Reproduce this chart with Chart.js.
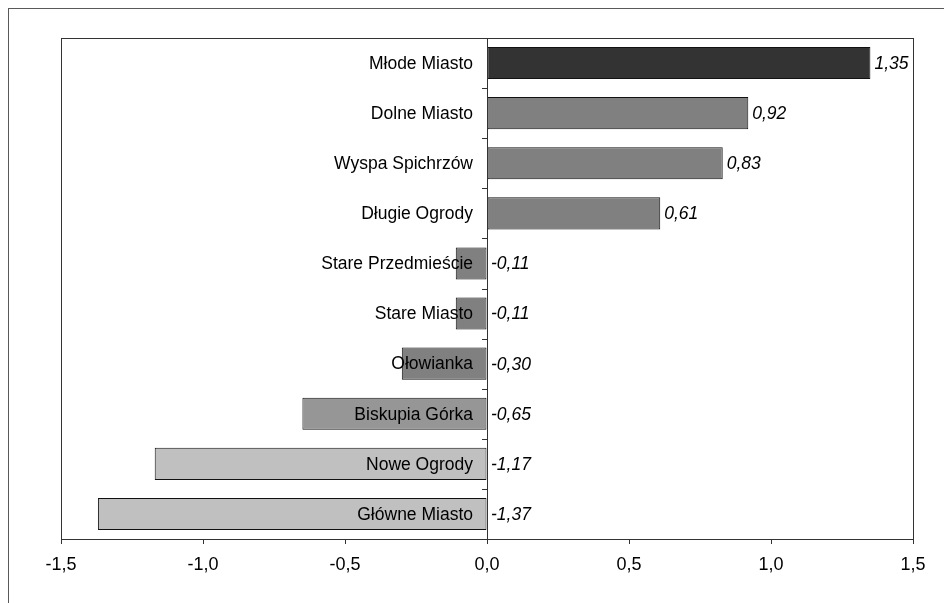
<!DOCTYPE html>
<html>
<head>
<meta charset="utf-8">
<script src="https://cdn.jsdelivr.net/npm/chart.js@4/dist/chart.umd.min.js"></script>
<style>
  html, body { margin: 0; padding: 0; background: #fff; }
  #wrap { width: 944px; height: 603px; position: relative; }
</style>
</head>
<body>
<div id="wrap"><canvas id="chart"></canvas></div>
<script>
const districts = [
  'Młode Miasto', 'Dolne Miasto', 'Wyspa Spichrzów', 'Długie Ogrody',
  'Stare Przedmieście', 'Stare Miasto', 'Ołowianka', 'Biskupia Górka',
  'Nowe Ogrody', 'Główne Miasto'
];
const values = [1.35, 0.92, 0.83, 0.61, -0.11, -0.11, -0.30, -0.65, -1.17, -1.37];
const barColors = [
  '#333333', '#808080', '#808080', '#808080', '#808080',
  '#808080', '#808080', '#969696', '#c0c0c0', '#c0c0c0'
];
const xTicks = [-1.5, -1.0, -0.5, 0.0, 0.5, 1.0, 1.5];

const fmt = (v, d) => v.toFixed(d).replace('.', ',');
const FONT = '"Liberation Sans", Arial, sans-serif';

// frame around the whole picture and around the plot area
const framePlugin = {
  id: 'frames',
  beforeDraw(chart) {
    const { ctx } = chart;
    ctx.save();
    ctx.fillStyle = '#fff';
    ctx.fillRect(0, 0, chart.width, chart.height);
    ctx.strokeStyle = '#595959';
    ctx.lineWidth = 1;
    ctx.strokeRect(8.5, 8.5, chart.width + 20, chart.height + 20);
    ctx.restore();
  },
  afterDraw(chart) {
    const { ctx, chartArea: a } = chart;
    ctx.save();
    ctx.strokeStyle = '#333';
    ctx.lineWidth = 1;
    ctx.strokeRect(Math.round(a.left) + 0.5, Math.round(a.top) + 0.5,
      Math.round(a.right - a.left), Math.round(a.bottom - a.top));
    ctx.restore();
  }
};

// district names right-aligned against the zero line, values in italics
const labelPlugin = {
  id: 'labels',
  afterDatasetsDraw(chart) {
    const { ctx, scales: { x, y } } = chart;
    const zero = x.getPixelForValue(0);
    ctx.save();
    ctx.fillStyle = '#000';
    ctx.textBaseline = 'middle';
    districts.forEach((name, i) => {
      const yy = y.getPixelForValue(i);
      ctx.font = '17.5px ' + FONT;
      ctx.textAlign = 'right';
      ctx.fillText(name, zero - 14, yy + 1);
      ctx.font = 'italic 17.5px ' + FONT;
      ctx.textAlign = 'left';
      const end = Math.max(x.getPixelForValue(values[i]), zero);
      ctx.fillText(fmt(values[i], 2), end + 4, yy + 1);
    });
    // small ticks on the zero line between categories
    ctx.strokeStyle = '#333';
    ctx.beginPath();
    for (let i = 0; i < districts.length - 1; i++) {
      const yy = Math.round((y.getPixelForValue(i) + y.getPixelForValue(i + 1)) / 2) + 0.5;
      ctx.moveTo(zero - 5, yy);
      ctx.lineTo(zero, yy);
    }
    ctx.moveTo(Math.round(zero) + 0.5, chart.chartArea.top);
    ctx.lineTo(Math.round(zero) + 0.5, chart.chartArea.bottom);
    ctx.stroke();
    ctx.restore();
  }
};

new Chart(document.getElementById('chart'), {
  type: 'bar',
  data: {
    labels: districts,
    datasets: [{
      data: values,
      backgroundColor: barColors,
      borderColor: '#111',
      borderWidth: 1,
      borderSkipped: false,
      barPercentage: 0.64,
      categoryPercentage: 1.0
    }]
  },
  options: {
    indexAxis: 'y',
    responsive: true,
    maintainAspectRatio: false,
    animation: false,
    layout: { padding: { left: 61, right: 31, top: 38, bottom: 0 } },
    plugins: {
      legend: { display: false },
      tooltip: { enabled: false }
    },
    scales: {
      x: {
        min: -1.5,
        max: 1.5,
        afterBuildTicks(scale) {
          scale.ticks = xTicks.map(v => ({ value: v }));
        },
        afterFit(scale) {
          scale.height = 64;
        },
        grid: { drawOnChartArea: false, tickLength: 5, color: '#333' },
        border: { color: '#333' },
        ticks: {
          color: '#000',
          padding: 10,
          maxRotation: 0,
          autoSkip: false,
          font: { family: FONT, size: 18 },
          callback: v => fmt(v, 1)
        }
      },
      y: {
        display: false
      }
    }
  },
  plugins: [framePlugin, labelPlugin]
});
</script>
</body>
</html>
